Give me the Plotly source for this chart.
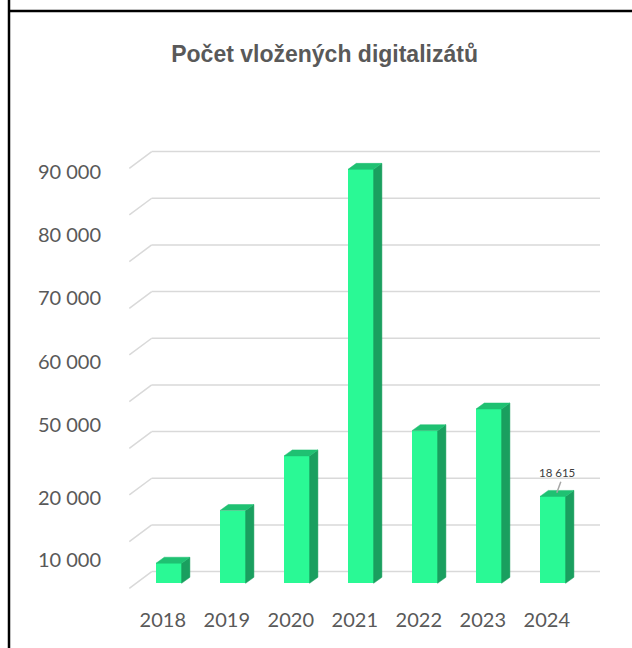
import plotly.graph_objects as go

# ---------------- data ----------------
years = ["2018", "2019", "2020", "2021", "2022", "2023", "2024"]
values = [4300, 15600, 27300, 88700, 32700, 37350, 18615]
grid_values = [0, 10000, 20000, 30000, 40000, 50000, 60000, 70000, 80000, 90000]
y_label_text = ["10 000", "20 000", "50 000", "60 000", "70 000", "80 000", "90 000"]
y_label_pos = [4990, 18280, 33910, 47490, 61130, 74630, 88200]
title_text = "Počet vložených digitalizátů"
labeled_index = 6
labeled_text = "18 615"

# ---------------- geometry / style ----------------
W, H = 632, 648
X_PX = 64.0                 # px per category
Y_PX = 46.667 / 10000       # px per unit value
x0_px, y0_px = 168.8, 583.3  # pixel of category 0 / value 0 on front face
x_range = [-x0_px / X_PX, (W - x0_px) / X_PX]
y_range = [(y0_px - H) / Y_PX, y0_px / Y_PX]

BAR_W = 0.4
DEPTH_X = 8.3 / X_PX
DEPTH_Y = 6.0 / Y_PX
BACK_DY = 11.7 / Y_PX
BACK_X0 = (151.7 - x0_px) / X_PX
BACK_X1 = (600.0 - x0_px) / X_PX
WALL_X = (129.3 - x0_px) / X_PX
WALL_DY = -5.0 / Y_PX

FRONT = "#2AF995"
SIDE = "#1A9F5F"
TOP = "#1FC172"
GRID = "#D9D9D9"
TEXT = "#595959"

xs = list(range(len(years)))

# side + top faces
side_x, side_y, top_x, top_y = [], [], [], []
for i, v in zip(xs, values):
    xl, xr = i - BAR_W / 2, i + BAR_W / 2
    side_x += [xr, xr, xr + DEPTH_X, xr + DEPTH_X, xr, None]
    side_y += [0, v, v + DEPTH_Y, DEPTH_Y, 0, None]
    top_x += [xl, xr, xr + DEPTH_X, xl + DEPTH_X, xl, None]
    top_y += [v, v, v + DEPTH_Y, v + DEPTH_Y, v, None]

fig = go.Figure()
fig.add_trace(go.Bar(x=xs, y=values, width=BAR_W, marker=dict(color=FRONT, line=dict(width=0)),
                     hoverinfo="skip", showlegend=False))
fig.add_trace(go.Scatter(x=side_x, y=side_y, mode="lines", fill="toself", fillcolor=SIDE,
                         line=dict(width=0.5, color=SIDE), hoverinfo="skip", showlegend=False))
fig.add_trace(go.Scatter(x=top_x, y=top_y, mode="lines", fill="toself", fillcolor=TOP,
                         line=dict(width=0.5, color=TOP), hoverinfo="skip", showlegend=False))

shapes = []
for g in grid_values:
    shapes.append(dict(type="line", xref="x", yref="y", layer="below",
                       x0=BACK_X0, y0=g + BACK_DY, x1=BACK_X1, y1=g + BACK_DY,
                       line=dict(color=GRID, width=1.5)))
    shapes.append(dict(type="line", xref="x", yref="y", layer="below",
                       x0=WALL_X, y0=g + WALL_DY, x1=BACK_X0, y1=g + BACK_DY,
                       line=dict(color=GRID, width=1.5)))

# leader line for data label
lv = values[labeled_index]
shapes.append(dict(type="line", xref="x", yref="y",
                   x0=labeled_index + 8 / X_PX, y0=lv + 14.7 / Y_PX,
                   x1=labeled_index + 4 / X_PX, y1=lv + 3.7 / Y_PX,
                   line=dict(color="#A6A6A6", width=1.5)))

# frame lines
shapes.append(dict(type="line", xref="paper", yref="paper", x0=9 / W, x1=9 / W, y0=0, y1=1,
                   line=dict(color="black", width=2.5)))
shapes.append(dict(type="line", xref="paper", yref="paper", x0=8 / W, x1=1.02, y0=1 - 11 / H, y1=1 - 11 / H,
                   line=dict(color="black", width=2.5)))

annotations = [dict(xref="x", yref="y", x=labeled_index + 4 / X_PX, y=lv + 23.7 / Y_PX,
                    text=labeled_text, showarrow=False, xanchor="center", yanchor="middle",
                    font=dict(family="Lato", size=11.5, color="#404040"))]

fig.update_layout(
    width=W, height=H, autosize=False,
    margin=dict(l=0, r=0, t=0, b=0),
    paper_bgcolor="white", plot_bgcolor="white",
    showlegend=False,
    bargap=0,
    shapes=shapes,
    annotations=annotations,
    title=dict(text=title_text, x=324.6 / W, y=1 - 54 / H, xanchor="center", yanchor="middle",
               xref="paper", yref="paper",
               font=dict(family="Liberation Sans", size=23, color=TEXT, weight="bold")),
    xaxis=dict(range=x_range, domain=[0, 1], tickvals=xs, ticktext=years, showgrid=False,
               zeroline=False, showline=False, ticks="", anchor="free", position=(H - 606) / H,
               ticklabelshift=-6, tickfont=dict(family="Lato", size=20, color=TEXT), fixedrange=True),
    yaxis=dict(range=y_range, domain=[0, 1], tickvals=y_label_pos, ticktext=y_label_text,
               showgrid=False, zeroline=False, showline=False, ticks="", anchor="free",
               position=101 / W, tickfont=dict(family="Lato", size=20, color=TEXT), fixedrange=True),
)

fig.write_html("out.html", config={"displayModeBar": False})
